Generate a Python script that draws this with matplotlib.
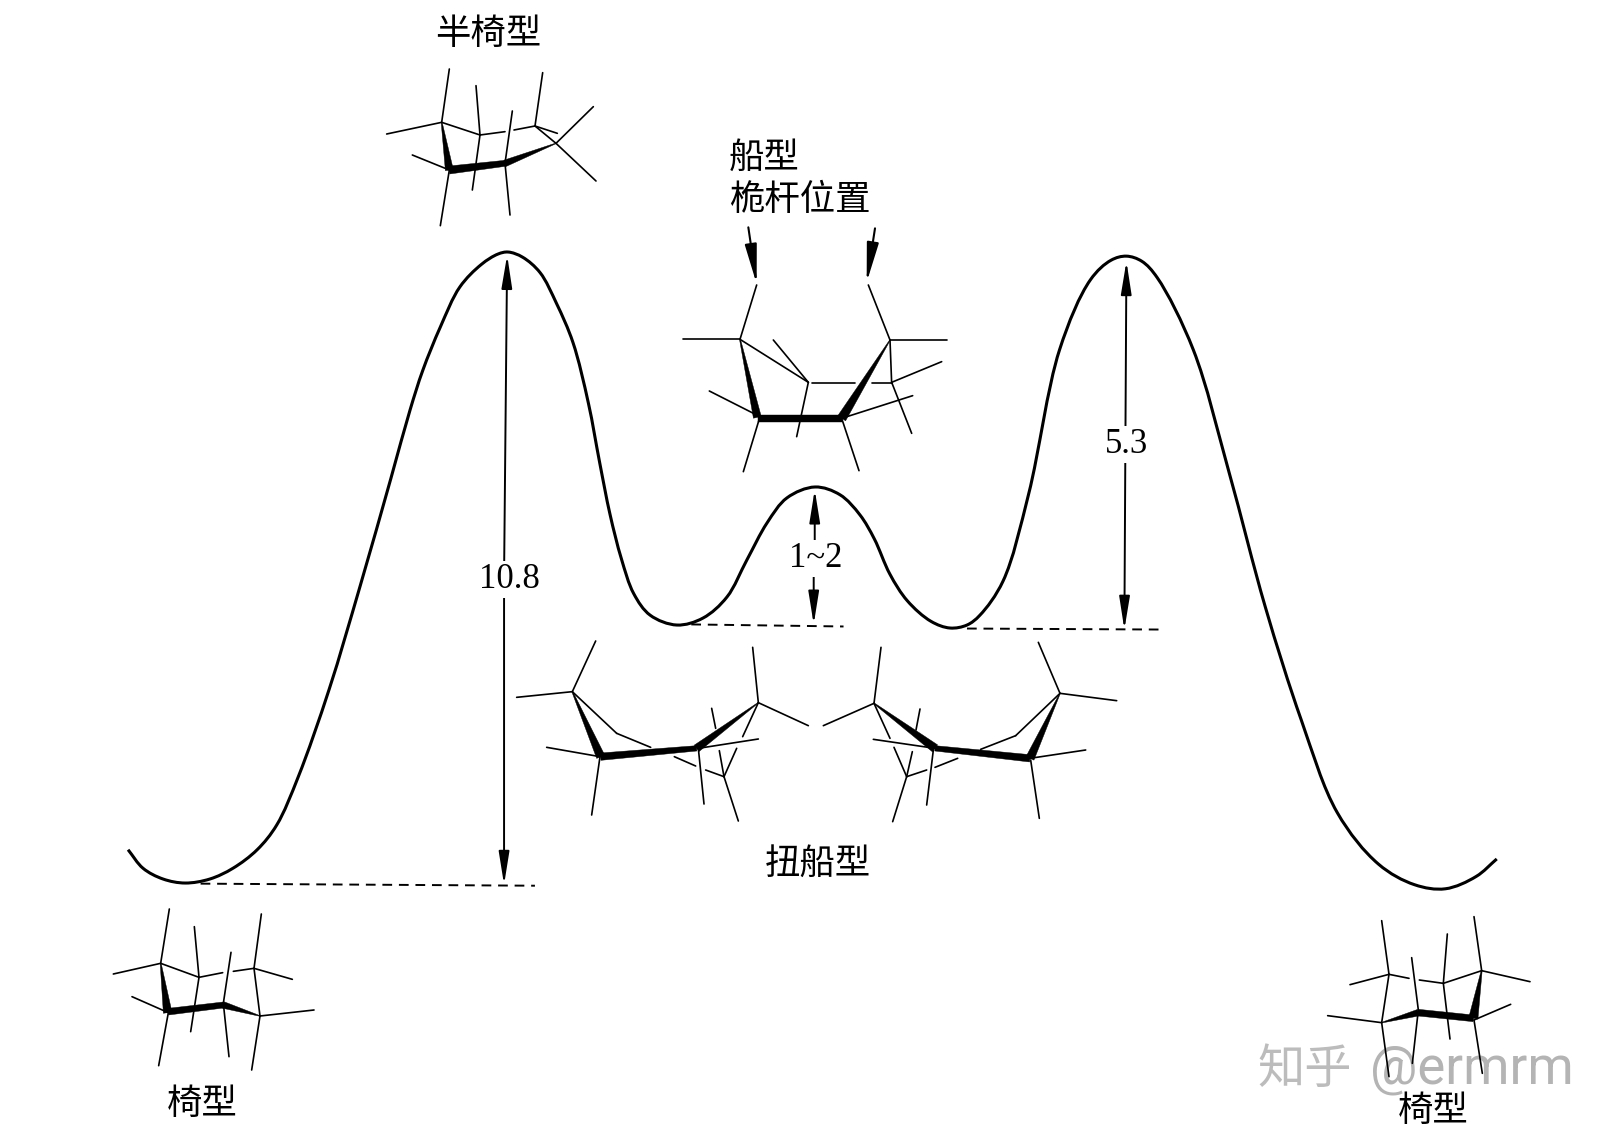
import numpy as np
import matplotlib
matplotlib.use("Agg")
import matplotlib.pyplot as plt
from matplotlib.path import Path
from matplotlib.patches import PathPatch, Polygon

plt.rcParams['font.family'] = ['Noto Sans CJK SC', 'DejaVu Sans']
S = 1613 / 1568

curve_x = [124.5,139,158.5,180,204,226.5,250,269,290,320,350,380,398.6,411,428,447,468,484,494,508,525,541,557,572,583,593,604,616,632,658,683.4,706.7,726,745.6,765,792.3,816.6,836,850,865,882,905,923.5,940,952.6,975,1000,1030,1060,1080,1095,1110,1125,1160,1195,1230,1265,1300,1340,1375,1405,1435,1455]
curve_y = [826,844,854.5,858.4,854.5,844,826,802,755,670,570,465,398.6,360,318,279,257,247,245,250,265,295,333,392,450,500,543,577,598,607.6,600.8,580.3,544.4,508.4,484,473.4,481,500.6,524,558,584,604,610.5,607.6,598,565,480,340,272,253,249,254,270,340,460,590,700,790,840,860,864,852,835]

dashes = [((195,859),(520,861)), ((672,607),(820,609)), ((940,611),(1132,612))]
double_arrows = [((490,560),(493,248)), ((490,560),(490,860)),
                 ((1094,430),(1095,254)), ((1094,430),(1093,612)),
                 ((792,526),(792,476)), ((791,556),(791,607))]
value_labels = [("10.8",495,563), ("5.3",1095,432), ("1~2",793,543)]
cjk_labels = [("半椅型",475,33), ("船型",743,153), ("桅杆位置",777,194), ("扭船型",795,840), ("椅型",197,1073), ("椅型",1393,1080)]

# molecules: crop origin, thin bonds and wedge bonds (x1,y1,w1,x2,y2,w2), in 3x crop units
half_chair = dict(origin=(370,0),
    thin=[(50,402,215,367),(215,367,238,207),(215,367,330,405),(318,257,330,405),(330,405,307,570),(330,405,405,395),(432,390,495,378),(495,378,518,218),(495,378,562,400),(495,378,558,430),(558,430,670,320),(558,430,678,543),(405,490,427,333),(405,490,420,645),(238,510,127,465),(238,510,211,677)],
    wedge=[(215,367,3,238,510,24),(238,510,24,405,490,18),(405,490,20,558,430,2)])
boat = dict(origin=(670,130),
    thin=[(40,628,210,628),(210,628,260,465),(210,628,415,757),(310,630,415,757),(415,757,380,920),(425,760,555,760),(605,760,665,760),(665,760,660,630),(660,630,595,465),(660,630,830,630),(665,757,815,695),(665,757,725,910),(270,860,118,783),(270,860,220,1025),(515,865,728,797),(515,865,567,1022)],
    wedge=[(210,628,3,262,862,24),(265,865,20,515,865,20),(515,865,28,660,630,2)])
twist_left = dict(origin=(510,630),
    thin=[(20,202,187,185),(187,185,257,33),(187,185,320,310),(320,310,422,352),(110,352,270,380),(270,380,245,555),(493,380,557,408),(587,420,642,440),(642,440,685,573),(642,440,628,362),(642,440,680,355),(698,320,745,218),(745,218,728,52),(745,218,895,287),(565,355,745,327),(565,355,582,522),(605,235,617,295)],
    wedge=[(187,185,3,272,380,26),(272,380,22,560,355,16),(560,355,24,745,218,2)])
twist_right = dict(origin=(810,630),
    thin=[(40,287,192,220),(192,220,213,52),(192,220,240,325),(252,352,290,440),(290,440,248,575),(290,440,307,365),(290,440,350,420),(375,412,443,385),(190,328,375,355),(370,360,350,525),(330,237,318,300),(512,358,617,317),(617,317,750,190),(750,190,685,37),(750,190,920,212),(660,385,827,360),(662,390,688,565)],
    wedge=[(192,220,3,375,355,26),(375,355,16,660,385,22),(660,385,26,750,190,2)])
chair_left = dict(origin=(100,890),
    thin=[(40,252,182,220),(182,220,208,57),(182,220,297,262),(283,110,297,262),(297,262,272,425),(297,262,368,248),(400,244,462,235),(462,235,484,72),(462,235,577,268),(462,235,480,378),(480,378,642,360),(480,378,455,540),(370,340,393,187),(370,340,387,500),(205,368,96,320),(205,368,176,527)],
    wedge=[(182,220,3,203,368,26),(205,365,20,370,345,18),(370,345,20,480,378,2)])
chair_right = dict(origin=(1300,900),
    thin=[(150,254,267,223),(267,223,327,235),(267,223,245,62),(267,223,245,368),(83,347,245,368),(245,368,267,530),(335,173,355,330),(355,330,337,490),(358,240,430,250),(430,250,442,102),(430,250,450,417),(430,250,545,212),(545,212,522,50),(545,212,690,245),(522,360,632,313),(522,360,547,520)],
    wedge=[(245,368,2,355,338,20),(355,338,20,520,355,20),(520,355,28,545,212,3)])
molecules = [half_chair, boat, twist_left, twist_right, chair_left, chair_right]
boat_arrows = [((235,292),(260,462)), ((615,295),(590,457))]

watermark = "知乎"
watermark_user = "@ermrm"

fig = plt.figure(figsize=(16.13, 11.34), dpi=100, facecolor='white')
ax = fig.add_axes([0, 0, 1, 1])
ax.set_xlim(0, 1613)
ax.set_ylim(1134, 0)
ax.axis('off')

# watermark, under the drawing
ax.text(1222*S, 1040*S, watermark, color='#bcbcbc', fontsize=34, va='center', ha='left', zorder=1)
ax.text(1332*S, 1040*S, watermark_user, color='#b4b4b4', fontsize=38, va='center', ha='left', family=['Roboto'], zorder=1)

# energy curve, smooth centripetal spline through the read points
P = np.column_stack([curve_x, curve_y]) * S
d = np.sqrt(np.hypot(*np.diff(P, axis=0).T))
seg = np.diff(P, axis=0) / d[:, None]
m = np.zeros_like(P)
m[0] = seg[0]; m[-1] = seg[-1]
for i in range(1, len(P)-1):
    m[i] = (seg[i]*d[i-1] + seg[i-1]*d[i]) / (d[i-1]+d[i])
verts = [P[0]]
codes = [Path.MOVETO]
for i in range(len(P) - 1):
    verts += [P[i] + m[i]*d[i]/3, P[i+1] - m[i+1]*d[i]/3, P[i+1]]
    codes += [Path.CURVE4]*3
ax.add_patch(PathPatch(Path(verts, codes), fill=False, ec='black', lw=2.2, zorder=3))

for a, b in dashes:
    ax.plot([a[0]*S, b[0]*S], [a[1]*S, b[1]*S], color='black', lw=1.4, dashes=(5, 3.5), zorder=3)

def arrow(a, b, lw=1.4, hl=1.0, hw=0.16, ms=20):
    ax.annotate('', xy=b, xytext=a, zorder=4,
                arrowprops=dict(arrowstyle=f'-|>,head_length={hl},head_width={hw}', mutation_scale=ms,
                                color='black', lw=lw, shrinkA=0, shrinkB=0))

for a, b in double_arrows:
    arrow((a[0]*S, a[1]*S), (b[0]*S, b[1]*S))

for (a, b) in boat_arrows:
    ox, oy = boat['origin']
    arrow((ox+a[0]/3, oy+a[1]/3), (ox+b[0]/3, oy+b[1]/3), lw=1.5, hl=1.2, hw=0.18)

for mol in molecules:
    ox, oy = mol['origin']
    for x1, y1, x2, y2 in mol['thin']:
        ax.plot([ox+x1/3, ox+x2/3], [oy+y1/3, oy+y2/3], color='black', lw=1.2, solid_capstyle='round', zorder=3)
    for x1, y1, w1, x2, y2, w2 in mol['wedge']:
        a = np.array([ox+x1/3, oy+y1/3]); b = np.array([ox+x2/3, oy+y2/3])
        u = (b-a)/np.hypot(*(b-a)); n = np.array([-u[1], u[0]])
        ax.add_patch(Polygon([a+n*w1/6, b+n*w2/6, b-n*w2/6, a-n*w1/6], closed=True, fc='black', ec='black', lw=0.3, zorder=3))

for t, x, y in value_labels:
    ax.text(x*S, y*S, t, family=['Liberation Serif'], fontsize=25, ha='center', va='center', color='black', zorder=6,
            bbox=dict(fc='white', ec='none', pad=1.5))

for t, x, y in cjk_labels:
    ax.text(x*S, y*S, t, fontsize=25.5, ha='center', va='center', color='black', zorder=6)

fig.savefig('out.png', dpi=100, facecolor='white')
